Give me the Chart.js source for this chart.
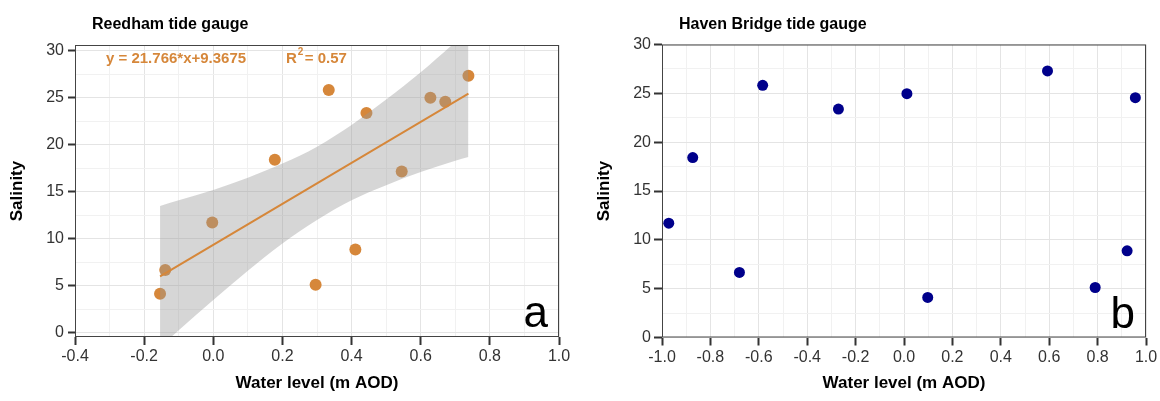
<!DOCTYPE html>
<html>
<head>
<meta charset="utf-8">
<script src="https://cdn.jsdelivr.net/npm/chart.js@4.4.1/dist/chart.umd.min.js"></script>
<style>
  body { margin: 0; background: #fff; }
  #wrap { position: relative; width: 1160px; height: 401px; }
  canvas { position: absolute; top: 0; }
</style>
</head>
<body>
<div id="wrap">
  <canvas id="chartA" width="580" height="401" style="left:0"></canvas>
  <canvas id="chartB" width="580" height="401" style="left:580px"></canvas>
</div>
<script>
// panel a - Reedham
var levelA = [0.334, 0.443, 0.628, 0.671, 0.738, 0.178, 0.545, -0.003, -0.139, -0.154, 0.296, 0.411];
var salinityA = [25.82, 23.37, 25.0, 24.57, 27.34, 18.40, 17.16, 11.73, 6.68, 4.17, 5.12, 8.87];
// panel b - Haven Bridge
var levelB = [-0.873, -0.584, -0.271, 0.012, 0.593, 0.956, -0.972, -0.680, 0.098, 0.790, 0.922];
var salinityB = [18.42, 25.82, 23.39, 24.97, 27.29, 24.55, 11.71, 6.66, 4.10, 5.12, 8.87];
// fitted line + grey band
var fitX = [-0.154, 0.738];
var fitY = [6.02, 25.43];
var bandX = [-0.154, -0.1, 0.0, 0.1, 0.2, 0.3, 0.4, 0.5, 0.6, 0.7, 0.738];
var bandUpper = [13.5, 14.1, 15.2, 16.5, 18.0, 19.8, 22.1, 24.8, 27.7, 30.9, 32.1];
var bandLower = [-1.5, 0.3, 3.5, 6.6, 9.5, 12.0, 14.1, 15.7, 17.1, 18.3, 18.7];
// tick labels
var xMajorA = [-0.4, -0.2, 0.0, 0.2, 0.4, 0.6, 0.8, 1.0];
var xMajorB = [-1.0, -0.8, -0.6, -0.4, -0.2, 0.0, 0.2, 0.4, 0.6, 0.8, 1.0];
var yMajor = [0, 5, 10, 15, 20, 25, 30];

var orange = '#D6873A';
var navy = '#00008B';
Chart.defaults.font.family = '"Liberation Sans", Arial, sans-serif';

function pts(xs, ys) {
    return xs.map(function (x, i) { return { x: x, y: ys[i] }; });
}

function withMinors(majors) {
    var out = [];
    majors.forEach(function (v, i) {
        out.push(v);
        if (i < majors.length - 1) out.push((v + majors[i + 1]) / 2);
    });
    return out;
}

function isMajor(v, majors) {
    return majors.some(function (m) { return Math.abs(m - v) < 1e-6; });
}

function gridOpts(majors, tickLen) {
    return {
        color: function (c) { return c.tick && isMajor(c.tick.value, majors) ? '#E4E4E4' : '#F1F1F1'; },
        lineWidth: 1,
        tickLength: tickLen,
        tickWidth: 2,
        tickColor: function (c) { return c.tick && isMajor(c.tick.value, majors) ? '#333' : 'rgba(0,0,0,0)'; }
    };
}

function scales(p) {
    return {
        x: {
            type: 'linear', min: p.xMin, max: p.xMax,
            afterBuildTicks: function (s) { s.ticks = withMinors(p.xMajor).map(function (v) { return { value: v }; }); },
            afterFit: function (s) { s.height = p.xHeight; },
            ticks: {
                autoSkip: false, maxRotation: 0, minRotation: 0, padding: 2, color: '#333', font: { size: 16 },
                callback: function (v) {
                    if (!isMajor(v, p.xMajor)) return '';
                    return Math.abs(v) < 1e-9 ? '0.0' : v.toFixed(1);
                }
            },
            grid: gridOpts(p.xMajor, 8),
            border: { display: false },
            title: { display: true, text: 'Water level (m AOD)', color: '#000', font: { size: 17, weight: 'bold' }, padding: { bottom: 7 } }
        },
        y: {
            type: 'linear', min: p.yMin, max: p.yMax,
            afterBuildTicks: function (s) { s.ticks = withMinors(yMajor).map(function (v) { return { value: v }; }); },
            afterFit: function (s) { s.width = p.yWidth; },
            ticks: {
                autoSkip: false, padding: p.yPad, color: '#333', font: { size: 16 },
                callback: function (v) { return isMajor(v, yMajor) ? String(v) : ''; }
            },
            grid: gridOpts(yMajor, p.yTick),
            border: { display: false },
            title: { display: true, text: 'Salinity', color: '#000', font: { size: 17, weight: 'bold' }, padding: { top: p.yTitlePad } }
        }
    };
}

var decor = {
    id: 'decor',
    afterDatasetsDraw: function (chart, args, o) {
        var ctx = chart.ctx, a = chart.chartArea;
        ctx.save();
        ctx.strokeStyle = '#444';
        ctx.lineWidth = 1;
        ctx.strokeRect(a.left + 0.5, a.top + 0.5, a.right - a.left - 1, a.bottom - a.top - 1);

        ctx.fillStyle = '#000';
        ctx.font = 'bold 16px "Liberation Sans", Arial';
        ctx.textBaseline = 'alphabetic';
        ctx.textAlign = 'left';
        ctx.fillText(o.title, a.left + 17, 28.5);

        ctx.font = '44px "Liberation Sans", Arial';
        ctx.textAlign = 'right';
        ctx.fillText(o.letter, a.right - 11, a.bottom - 10);

        if (o.eq) {
            ctx.fillStyle = orange;
            ctx.textAlign = 'left';
            ctx.font = 'bold 15px "Liberation Sans", Arial';
            ctx.fillText(o.eq, 106, 63);
            ctx.fillText('R', 286, 63);
            var rw = ctx.measureText('R').width;
            ctx.font = 'bold 10px "Liberation Sans", Arial';
            ctx.fillText('2', 286 + rw + 1, 55);
            ctx.font = 'bold 15px "Liberation Sans", Arial';
            ctx.fillText(o.r2, 286 + rw + 8, 63);
        }
        ctx.restore();
    }
};

new Chart(document.getElementById('chartA').getContext('2d'), {
    type: 'scatter',
    data: {
        datasets: [
            { data: pts(fitX, fitY), showLine: true, borderColor: orange, borderWidth: 2, pointRadius: 0, order: 1 },
            { data: pts(bandX, bandUpper), showLine: true, borderWidth: 0, borderColor: 'rgba(0,0,0,0)', pointRadius: 0,
              cubicInterpolationMode: 'monotone', fill: '+1', backgroundColor: 'rgba(153,153,153,0.4)', order: 2 },
            { data: pts(bandX, bandLower), showLine: true, borderWidth: 0, borderColor: 'rgba(0,0,0,0)', pointRadius: 0,
              cubicInterpolationMode: 'monotone', fill: false, order: 2 },
            { data: pts(levelA, salinityA), backgroundColor: orange, borderWidth: 0, pointRadius: 6, order: 3 }
        ]
    },
    options: {
        responsive: false,
        animation: false,
        layout: { padding: { left: 0, top: 45, right: 21, bottom: 0 } },
        plugins: {
            legend: { display: false },
            tooltip: { enabled: false },
            decor: { title: 'Reedham tide gauge', letter: 'a', eq: 'y = 21.766*x+9.3675', r2: '= 0.57' }
        },
        scales: scales({ xMin: -0.4, xMax: 1.0, xMajor: xMajorA, xHeight: 64, yMin: -0.43, yMax: 30.6,
                         yWidth: 75, yTick: 7, yPad: 4, yTitlePad: 7 })
    },
    plugins: [decor]
});

new Chart(document.getElementById('chartB').getContext('2d'), {
    type: 'scatter',
    data: {
        datasets: [
            { data: pts(levelB, salinityB), backgroundColor: navy, borderWidth: 0, pointRadius: 5.5 }
        ]
    },
    options: {
        responsive: false,
        animation: false,
        layout: { padding: { left: 0, top: 44.5, right: 14, bottom: 0 } },
        plugins: {
            legend: { display: false },
            tooltip: { enabled: false },
            decor: { title: 'Haven Bridge tide gauge', letter: 'b' }
        },
        scales: scales({ xMin: -1.0, xMax: 1.0, xMajor: xMajorB, xHeight: 63.5, yMin: 0, yMax: 30,
                         yWidth: 82, yTick: 8, yPad: 3, yTitlePad: 14 })
    },
    plugins: [decor]
});
</script>
</body>
</html>
